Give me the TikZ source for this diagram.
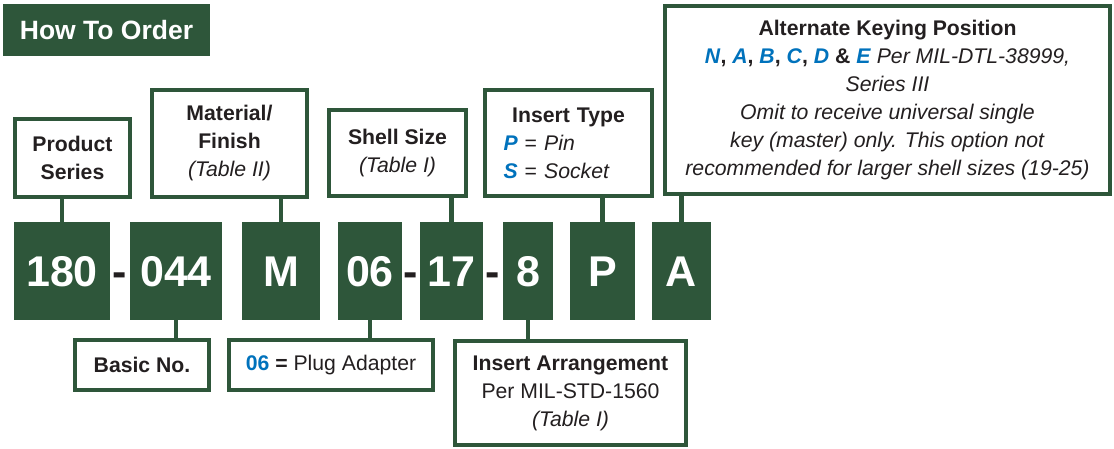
\documentclass[tikz,border=0pt]{standalone}
\usepackage{fontspec}
\setmainfont{Liberation Sans}
\usepackage{tikz}
\usetikzlibrary{positioning}

\definecolor{hgreen}{RGB}{46,86,58}
\definecolor{hblue}{RGB}{0,114,188}
\definecolor{hink}{RGB}{35,31,32}
\newcommand{\hb}[1]{\textcolor{hblue}{\textbf{\textit{#1}}}}

\begin{document}
\begin{tikzpicture}[x=1pt, y=-1pt,
  codebox/.style={fill=hgreen, text=white, inner sep=0pt, outer sep=0pt, minimum height=98pt,
    font=\fontsize{43}{43}\selectfont\bfseries, text height=31pt, text depth=0pt},
  hyph/.style={inner sep=0pt, text=hink, font=\fontsize{43}{43}\selectfont\bfseries, text height=31pt, text depth=0pt},
  labelbox/.style={draw=hgreen, line width=4pt, fill=white, inner sep=0pt, align=center, text=hink,
    font=\fontsize{21.2}{28}\selectfont},
  link/.style={draw=hgreen, line width=4.5pt}]
  \useasboundingbox (0,0) rectangle (1114,449);

  \node (title) [fill=hgreen, text=white, minimum width=207pt, minimum height=52pt,
    font=\fontsize{26.5}{26.5}\selectfont\bfseries] at (106.5,30) {How To Order};

  \node (c180) [codebox, minimum width=96pt] at (62,271) {180};
  \node (c044) [codebox, minimum width=92pt, right=20pt of c180] {044};
  \node (cM) [codebox, minimum width=78pt, right=20pt of c044] {M};
  \node (c06) [codebox, minimum width=64pt, right=18pt of cM] {06};
  \node (c17) [codebox, minimum width=63pt, right=18pt of c06] {17};
  \node (c8) [codebox, minimum width=50pt, right=20pt of c17] {8};
  \node (cP) [codebox, minimum width=65pt, right=17pt of c8] {P};
  \node (cA) [codebox, minimum width=59pt, right=17pt of cP] {A};

  \path (c180.east) -- node [hyph] (h1) {-} (c044.west);
  \path (c06.east) -- node [hyph] (h2) {-} (c17.west);
  \path (c17.east) -- node [hyph] (h3) {-} (c8.west);

  \node (lseries) [labelbox, minimum width=115pt, minimum height=78pt] at (72.5,158)
    {\textbf{Product}\\\textbf{Series}};
  \node (lmaterial) [labelbox, minimum width=155pt, minimum height=107pt] at (229.5,143.5)
    {\textbf{Material/}\\\textbf{Finish}\\\textit{(Table II)}};
  \node (lshell) [labelbox, minimum width=137pt, minimum height=86pt] at (397.5,153)
    {\textbf{Shell Size}\\\textit{(Table I)}};
  \node (ltype) [labelbox, minimum width=167pt, minimum height=106pt, text width=130pt, align=left] at (568.5,143)
    {{\centering\textbf{Insert Type}\par}\hb{P} = \textit{Pin}\\\hb{S} = \textit{Socket}};
  \node (lkey) [labelbox, minimum width=445pt, minimum height=188pt] at (887.5,100)
    {\textbf{Alternate Keying Position}\\
     \hb{N}\textbf{, }\hb{A}\textbf{, }\hb{B}\textbf{, }\hb{C}\textbf{, }\hb{D} \textbf{\&} \hb{E} \textit{Per MIL-DTL-38999,}\\
     \textit{Series III}\\
     \textit{Omit to receive universal single}\\
     \textit{key (master) only. This option not}\\
     \textit{recommended for larger shell sizes (19-25)}};

  \node (lbasic) [labelbox, minimum width=134pt, minimum height=50pt] at (142,365)
    {\textbf{Basic No.}};
  \node (lplug) [labelbox, minimum width=204pt, minimum height=50pt] at (331,365)
    {\hb{\upshape 06} \textbf{=} Plug Adapter};
  \node (larrange) [labelbox, minimum width=231pt, minimum height=104pt] at (570.5,393)
    {\textbf{Insert Arrangement}\\Per MIL-STD-1560\\\textit{(Table I)}};

  \draw [link] (c180.north) -- (c180.north |- lseries.south);
  \draw [link] (cM.north) -- (cM.north |- lmaterial.south);
  \draw [link] (c17.north) -- (c17.north |- lshell.south);
  \draw [link] (cP.north) -- (cP.north |- ltype.south);
  \draw [link] (cA.north) -- (cA.north |- lkey.south);
  \draw [link] (c044.south) -- (c044.south |- lbasic.north);
  \draw [link] (c06.south) -- (c06.south |- lplug.north);
  \draw [link] (c8.south) -- (c8.south |- larrange.north);
\end{tikzpicture}
\end{document}
